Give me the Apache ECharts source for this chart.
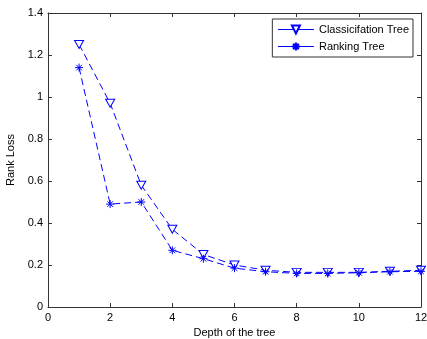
<!DOCTYPE html>
<html>
<head>
<meta charset="utf-8">
<script src="https://cdn.jsdelivr.net/npm/echarts@6/dist/echarts.min.js"></script>
<style>
  html, body { margin: 0; padding: 0; background: #fff; }
  #chart { width: 427px; height: 339px; }
</style>
</head>
<body>
<div id="chart"></div>
<script>
const depths = [1, 2, 3, 4, 5, 6, 7, 8, 9, 10, 11, 12]
const classificationTree = [1.25, 0.97, 0.58, 0.37, 0.25, 0.2, 0.175, 0.165, 0.165, 0.165, 0.17, 0.175]
const rankingTree = [1.14, 0.49, 0.5, 0.27, 0.23, 0.185, 0.168, 0.16, 0.16, 0.163, 0.168, 0.17]

const blue = "#0000ff"
const axisColor = "#333"
const font = "Liberation Sans, Arial, sans-serif"

const chart = echarts.init(document.getElementById("chart"))

const toPairs = (ys) => depths.map((d, i) => [d, ys[i]])

const boxAxis = {
  axisLine: { show: true, onZero: false, lineStyle: { color: axisColor, width: 1 } },
  axisTick: { show: true, inside: true, length: 4, lineStyle: { color: axisColor } },
  splitLine: { show: false },
}

const legendLine = { type: "solid", width: 1.2, color: blue }

const option = {
  animation: false,
  grid: { left: 48, right: 6, top: 13, bottom: 32, outerBoundsMode: "none", containLabel: false },
  legend: {
    right: 14,
    top: 19,
    orient: "vertical",
    itemWidth: 36,
    itemHeight: 10,
    itemGap: 6,
    padding: [5, 4, 5, 5],
    backgroundColor: "#fff",
    borderColor: axisColor,
    borderWidth: 1,
    borderRadius: 0,
    lineStyle: legendLine,
    textStyle: { fontFamily: font, fontSize: 11, color: "#000" },
    data: [
      { name: "Classicifation Tree", lineStyle: legendLine },
      { name: "Ranking Tree", lineStyle: legendLine },
    ],
  },
  xAxis: [
    {
      type: "value",
      min: 0,
      max: 12,
      interval: 2,
      name: "Depth of the tree",
      nameLocation: "middle",
      nameGap: 17,
      nameTextStyle: { fontFamily: font, fontSize: 11, color: "#000" },
      axisLabel: { fontFamily: font, fontSize: 11, color: "#000", margin: 5 },
      ...boxAxis,
    },
    {
      type: "value",
      position: "top",
      min: 0,
      max: 12,
      interval: 2,
      axisLabel: { show: false },
      ...boxAxis,
    },
  ],
  yAxis: [
    {
      type: "value",
      min: 0,
      max: 1.4,
      interval: 0.2,
      name: "Rank Loss",
      nameLocation: "middle",
      nameGap: 26,
      nameTextStyle: { fontFamily: font, fontSize: 11, color: "#000" },
      axisLabel: { fontFamily: font, fontSize: 11, color: "#000", margin: 5 },
      ...boxAxis,
    },
    {
      type: "value",
      position: "right",
      min: 0,
      max: 1.4,
      interval: 0.2,
      axisLabel: { show: false },
      ...boxAxis,
    },
  ],
  series: [
    {
      name: "Classicifation Tree",
      type: "line",
      data: toPairs(classificationTree),
      symbol: "path://M0,0 L10,0 L5,9 Z",
      symbolSize: [9, 8],
      showSymbol: true,
      lineStyle: { color: blue, width: 1, type: [7, 4] },
      itemStyle: { color: "#fff", borderColor: blue, borderWidth: 1 },
      z: 2,
    },
    {
      name: "Ranking Tree",
      type: "line",
      data: toPairs(rankingTree),
      symbol: "path://M5,0 L5,10 M0,5 L10,5 M1.5,1.5 L8.5,8.5 M8.5,1.5 L1.5,8.5",
      symbolSize: 8,
      showSymbol: true,
      lineStyle: { color: blue, width: 1, type: [7, 4] },
      itemStyle: { color: blue, borderColor: blue, borderWidth: 1 },
      z: 3,
    },
  ],
}

chart.setOption(option)
</script>
</body>
</html>
